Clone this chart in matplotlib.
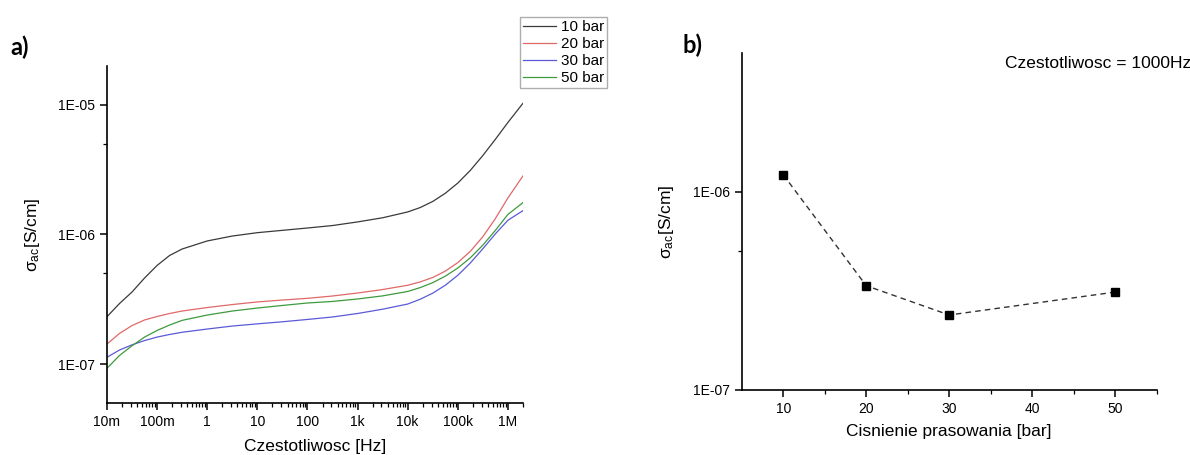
import numpy as np
import matplotlib
matplotlib.use('Agg')
import matplotlib.pyplot as plt
from matplotlib.ticker import FixedLocator, FixedFormatter, NullFormatter

plt.rcParams.update({
    "font.family": "Liberation Sans",
    "mathtext.fontset": "custom",
    "mathtext.rm": "Liberation Sans",
    "mathtext.it": "Liberation Sans:italic",
    "font.size": 10,
})

# Panel a: sigma_ac vs frequency (log10 values)
log_freq = [-2, -1.75, -1.5, -1.25, -1, -0.75, -0.5, 0, 0.5, 1, 1.5, 2, 2.5, 3,
            3.5, 4, 4.25, 4.5, 4.75, 5, 5.25, 5.5, 5.75, 6, 6.3]
log_sigma_10 = [-6.635, -6.533, -6.444, -6.336, -6.239, -6.162, -6.112, -6.050, -6.012,
                -5.986, -5.968, -5.950, -5.931, -5.903, -5.871, -5.826, -5.792, -5.745,
                -5.682, -5.603, -5.505, -5.390, -5.265, -5.135, -4.987]
log_sigma_20 = [-6.846, -6.764, -6.703, -6.660, -6.633, -6.610, -6.591, -6.564, -6.541,
                -6.521, -6.506, -6.493, -6.475, -6.452, -6.425, -6.392, -6.366, -6.332,
                -6.283, -6.217, -6.130, -6.017, -5.877, -5.718, -5.548]
log_sigma_30 = [-6.948, -6.892, -6.852, -6.819, -6.792, -6.772, -6.755, -6.730, -6.707,
                -6.690, -6.674, -6.656, -6.637, -6.610, -6.577, -6.537, -6.500, -6.453,
                -6.392, -6.315, -6.220, -6.110, -5.995, -5.890, -5.816]
log_sigma_50 = [-7.033, -6.934, -6.859, -6.792, -6.741, -6.699, -6.663, -6.622, -6.591,
                -6.568, -6.548, -6.529, -6.517, -6.498, -6.474, -6.440, -6.410, -6.372,
                -6.322, -6.259, -6.180, -6.082, -5.968, -5.845, -5.754]
series_labels = ['10 bar', '20 bar', '30 bar', '50 bar']
series_colors = ['#3a3a3a', '#e06868', '#5a5ad8', '#3d9a3d']

x_ticks_a = [1e-2, 1e-1, 1, 10, 100, 1e3, 1e4, 1e5, 1e6]
x_labels_a = ['10m', '100m', '1', '10', '100', '1k', '10k', '100k', '1M']
y_ticks_a = [1e-7, 1e-6, 1e-5]
y_labels_a = ['1E-07', '1E-06', '1E-05']

# Panel b: sigma_ac at 1000 Hz vs pressing pressure
pressure = [10, 20, 30, 50]
sigma_1k = [1.22e-6, 3.36e-7, 2.39e-7, 3.12e-7]
y_ticks_b = [1e-7, 1e-6]
y_labels_b = ['1E-07', '1E-06']

fig = plt.figure(figsize=(11.9, 4.55), dpi=100)
ax1 = fig.add_axes([0.0899, 0.1143, 0.3496, 0.7407])
ax2 = fig.add_axes([0.6233, 0.1429, 0.3487, 0.7399])

freq = 10 ** np.array(log_freq)
lines = []
for ls, lab, col in zip([log_sigma_10, log_sigma_20, log_sigma_30, log_sigma_50],
                        series_labels, series_colors):
    l, = ax1.plot(freq, 10 ** np.array(ls), color=col, lw=0.9, label=lab)
    lines.append(l)

ax1.set_xscale('log')
ax1.set_yscale('log')
ax1.set_xlim(1e-2, 2e6)
ax1.set_ylim(5e-8, 2e-5)
ax1.xaxis.set_major_locator(FixedLocator(x_ticks_a))
ax1.xaxis.set_major_formatter(FixedFormatter(x_labels_a))
ax1.xaxis.set_minor_locator(FixedLocator(
    [m * d for d in x_ticks_a[:-1] for m in range(2, 10)] + [2e6]))
ax1.xaxis.set_minor_formatter(NullFormatter())
ax1.yaxis.set_major_locator(FixedLocator(y_ticks_a))
ax1.yaxis.set_major_formatter(FixedFormatter(y_labels_a))
ax1.yaxis.set_minor_locator(FixedLocator([5e-7, 5e-6]))
ax1.yaxis.set_minor_formatter(NullFormatter())
ax1.set_xlabel('Czestotliwosc [Hz]', fontsize=12.5, labelpad=7)
ax1.set_ylabel('σ$_{\\mathrm{ac}}$[S/cm]', fontsize=12.5, labelpad=12)

for ax in (ax1, ax2):
    ax.spines['top'].set_visible(False)
    ax.spines['right'].set_visible(False)
    ax.spines['left'].set_linewidth(1.2)
    ax.spines['bottom'].set_linewidth(1.2)
    ax.tick_params(which='major', direction='out', length=5, width=1.1, labelsize=10)
    ax.tick_params(which='minor', direction='out', length=3, width=0.9)

fig.legend(handles=lines, loc='upper left', bbox_to_anchor=(0.437, 0.963),
           frameon=True, fancybox=False, edgecolor='#999999', fontsize=11,
           handlelength=2.15, handletextpad=0.3, labelspacing=0.2,
           borderpad=0.2, borderaxespad=0)

ax2.plot(pressure, sigma_1k, color='#333333', lw=1, linestyle=(0, (4, 3)),
         marker='s', markersize=6, markerfacecolor='black', markeredgecolor='black')
ax2.set_yscale('log')
ax2.set_xlim(5, 55)
ax2.set_ylim(1e-7, 5e-6)
ax2.set_xticks([10, 20, 30, 40, 50])
ax2.set_xticks([15, 25, 35, 45, 55], minor=True)
ax2.yaxis.set_major_locator(FixedLocator(y_ticks_b))
ax2.yaxis.set_major_formatter(FixedFormatter(y_labels_b))
ax2.yaxis.set_minor_locator(FixedLocator([5e-7]))
ax2.yaxis.set_minor_formatter(NullFormatter())
ax2.set_xlabel('Cisnienie prasowania [bar]', fontsize=12.5, labelpad=6)
ax2.set_ylabel('σ$_{\\mathrm{ac}}$[S/cm]', fontsize=12.5, labelpad=12)

fig.text(1005 / 1190, 1 - 63 / 455, 'Czestotliwosc = 1000Hz', fontsize=12.5,
         ha='left', va='center')
fig.text(10 / 1190, 1 - 47 / 455, 'a)', fontsize=17, fontweight='bold',
         family='Lato', ha='left', va='center')
fig.text(683 / 1190, 1 - 45 / 455, 'b)', fontsize=17, fontweight='bold',
         family='Lato', ha='left', va='center')

fig.savefig('out.png', dpi=100)
